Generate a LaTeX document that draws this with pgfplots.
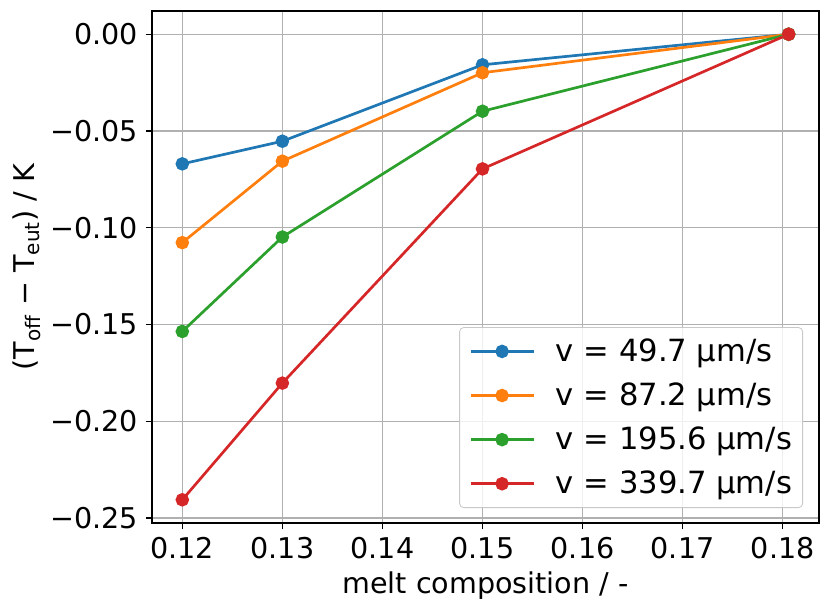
\documentclass[border=0pt]{standalone}
\usepackage{fontspec}
\setmainfont{DejaVu Sans}
\usepackage{pgfplots}
\pgfplotsset{compat=1.18}
\definecolor{c1}{HTML}{1F77B4}
\definecolor{c2}{HTML}{FF7F0E}
\definecolor{c3}{HTML}{2CA02C}
\definecolor{c4}{HTML}{D62728}
\definecolor{gridc}{HTML}{B0B0B0}
\begin{document}
\begin{tikzpicture}[font=\fontsize{14.3pt}{17pt}\selectfont]
\begin{axis}[
  at={(0,0)}, anchor=south west,
  scale only axis,
  width=333.5pt, height=256pt,
  xmin=0.11697, xmax=0.18363,
  ymin=-0.2526, ymax=0.0120,
  xtick={0.12,0.13,0.14,0.15,0.16,0.17,0.18},
  xticklabels={0.12,0.13,0.14,0.15,0.16,0.17,0.18},
  ytick={-0.25,-0.2,-0.15,-0.1,-0.05,0},
  yticklabels={−0.25,−0.20,−0.15,−0.10,−0.05,0.00},
  scaled x ticks=false, scaled y ticks=false,
  tick align=outside,
  major tick length=3pt,
  tick style={black, line width=0.7pt},
  xtick pos=bottom, ytick pos=left,
  axis line style={black, line width=0.7pt},
  grid=major,
  major grid style={gridc, line width=0.7pt},
  xticklabel style={yshift=-0.5pt},
  yticklabel style={xshift=-0.5pt},
  xlabel={melt composition / -},
  ylabel={(T\textsubscript{off} − T\textsubscript{eut}) / K},
  xlabel style={yshift=0.5pt},
  ylabel style={yshift=-2pt},
  every axis plot/.append style={line width=1.35pt, mark=*, mark size=2.7pt},
  legend cell align=left,
  legend style={at={(1,0)}, anchor=south east, xshift=-8pt, yshift=7.5pt,
    draw=gridc!70, rounded corners=2pt, fill=white, fill opacity=0.8, text opacity=1,
    font=\fontsize{15.3pt}{18pt}\selectfont,
    inner xsep=4.8pt, inner ysep=3.5pt, row sep=5.2pt,
    nodes={inner xsep=0.5pt}},
  legend image code/.code={\draw[fill opacity=1, draw opacity=1, line width=1.35pt, mark repeat=2,mark phase=2] plot coordinates {(0pt,0pt) (15.75pt,0pt) (31.5pt,0pt)};
    \path (41.5pt,0pt);},
]
\addplot[c1, mark options={fill=c1, draw=c1}] coordinates {(0.12,-0.0670) (0.13,-0.0553) (0.15,-0.0158) (0.1806,0)};
\addlegendentry{v = 49.7 µm/s}
\addplot[c2, mark options={fill=c2, draw=c2}] coordinates {(0.12,-0.1077) (0.13,-0.0656) (0.15,-0.0199) (0.1806,0)};
\addlegendentry{v = 87.2 µm/s}
\addplot[c3, mark options={fill=c3, draw=c3}] coordinates {(0.12,-0.1536) (0.13,-0.1048) (0.15,-0.0398) (0.1806,0)};
\addlegendentry{v = 195.6 µm/s}
\addplot[c4, mark options={fill=c4, draw=c4}] coordinates {(0.12,-0.2406) (0.13,-0.1803) (0.15,-0.0696) (0.1806,0)};
\addlegendentry{v = 339.7 µm/s}
\end{axis}
\pgfresetboundingbox
\useasboundingbox (-76pt,-44.5pt) rectangle (339pt,261.5pt);
\end{tikzpicture}
\end{document}
